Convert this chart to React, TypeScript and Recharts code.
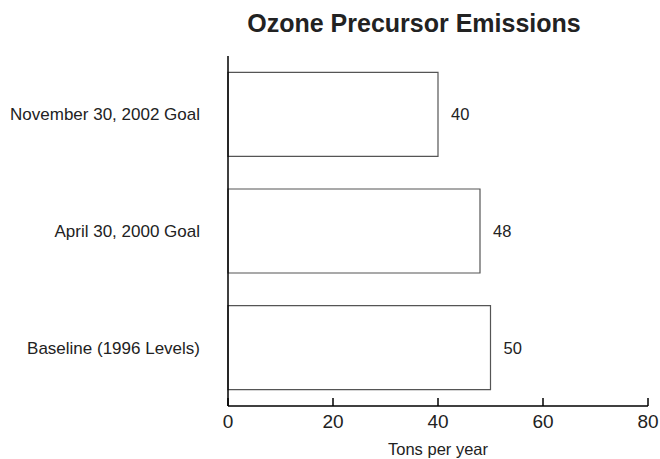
import React from 'react';
import { BarChart, Bar, XAxis, YAxis, LabelList } from 'recharts';

const categories = ['November 30, 2002 Goal', 'April 30, 2000 Goal', 'Baseline (1996 Levels)'];
const emissions = [40, 48, 50];
const xTicks = [0, 20, 40, 60, 80];

const data = categories.map((name, i) => ({ name, tons: emissions[i] }));

const FONT = '"Liberation Sans", Arial, sans-serif';
const INK = '#222';

// ticks in the reference point up into the plot, so draw them by hand
const XTick = (props: any) => {
  const { x, y, payload } = props;
  return (
    <g>
      <line x1={x} x2={x} y1={y - 8} y2={y} stroke="#000" strokeWidth={1.5} />
      <text x={x} y={y + 22} textAnchor="middle" fill={INK} fontSize={19} fontFamily={FONT}>
        {payload.value}
      </text>
    </g>
  );
};

export default function App() {
  return (
    <div style={{ position: 'absolute', left: 0, top: 0, width: 660, height: 459, background: '#fff' }}>
      <div
        style={{
          position: 'absolute',
          left: 228,
          width: 372,
          top: 9,
          textAlign: 'center',
          fontFamily: FONT,
          fontWeight: 'bold',
          fontSize: 25,
          lineHeight: '28px',
          color: INK,
        }}
      >
        Ozone Precursor Emissions
      </div>
      <BarChart
        width={660}
        height={459}
        data={data}
        layout="vertical"
        margin={{ top: 56, right: 12, bottom: 0, left: 0 }}
        barCategoryGap="14%"
      >
        <XAxis
          type="number"
          domain={[0, 80]}
          ticks={xTicks}
          height={53}
          tickSize={0}
          tickMargin={0}
          tickLine={false}
          axisLine={{ stroke: '#000', strokeWidth: 1.5 }}
          tick={<XTick />}
          label={{ value: 'Tons per year', position: 'insideBottom', offset: 4, fill: INK, fontSize: 16.5, fontFamily: FONT }}
        />
        <YAxis
          type="category"
          dataKey="name"
          width={228}
          tickLine={false}
          tickSize={0}
          tickMargin={28}
          axisLine={{ stroke: '#000', strokeWidth: 1.5 }}
          tick={{ fill: INK, fontSize: 17, fontFamily: FONT }}
        />
        <Bar dataKey="tons" fill="#fff" stroke="#555" strokeWidth={1.2} isAnimationActive={false}>
          <LabelList dataKey="tons" position="right" offset={13} fill={INK} fontSize={16.5} fontFamily={FONT} />
        </Bar>
      </BarChart>
    </div>
  );
}
